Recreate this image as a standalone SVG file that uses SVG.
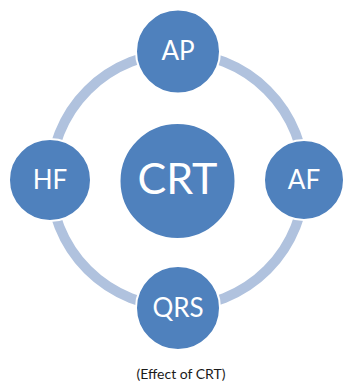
<svg xmlns="http://www.w3.org/2000/svg" width="343" height="385" viewBox="0 0 343 385">
  <style>
    .ring { fill: none; stroke: #b0c2de; stroke-width: 10; }
    .node { fill: #4f81bd; stroke: #ffffff; stroke-width: 2; }
    .lbl { fill: #ffffff; font-family: Lato, "Liberation Sans", sans-serif; text-anchor: middle; }
    .cap { fill: #1a1a1a; font-family: Lato, "Liberation Sans", sans-serif; font-size: 14px; text-anchor: middle; }
  </style>
  <rect width="343" height="385" fill="#ffffff"/>
  <g id="connectors">
    <circle class="ring" cx="177.5" cy="180" r="127"/>
  </g>
  <g id="crt">
    <circle class="node" cx="177.5" cy="181" r="58"/>
    <text class="lbl" x="177.5" y="194" font-size="43">CRT</text>
  </g>
  <g id="ap">
    <circle class="node" cx="178" cy="51.5" r="42"/>
    <text class="lbl" x="178" y="60" font-size="26">AP</text>
  </g>
  <g id="af">
    <circle class="node" cx="304" cy="180" r="40"/>
    <text class="lbl" x="304" y="189" font-size="26">AF</text>
  </g>
  <g id="hf">
    <circle class="node" cx="50" cy="180" r="41"/>
    <text class="lbl" x="50" y="189" font-size="26">HF</text>
  </g>
  <g id="qrs">
    <circle class="node" cx="178" cy="308" r="42"/>
    <text class="lbl" x="178" y="317" font-size="26">QRS</text>
  </g>
  <text class="cap" x="181" y="379">(Effect of CRT)</text>
</svg>
